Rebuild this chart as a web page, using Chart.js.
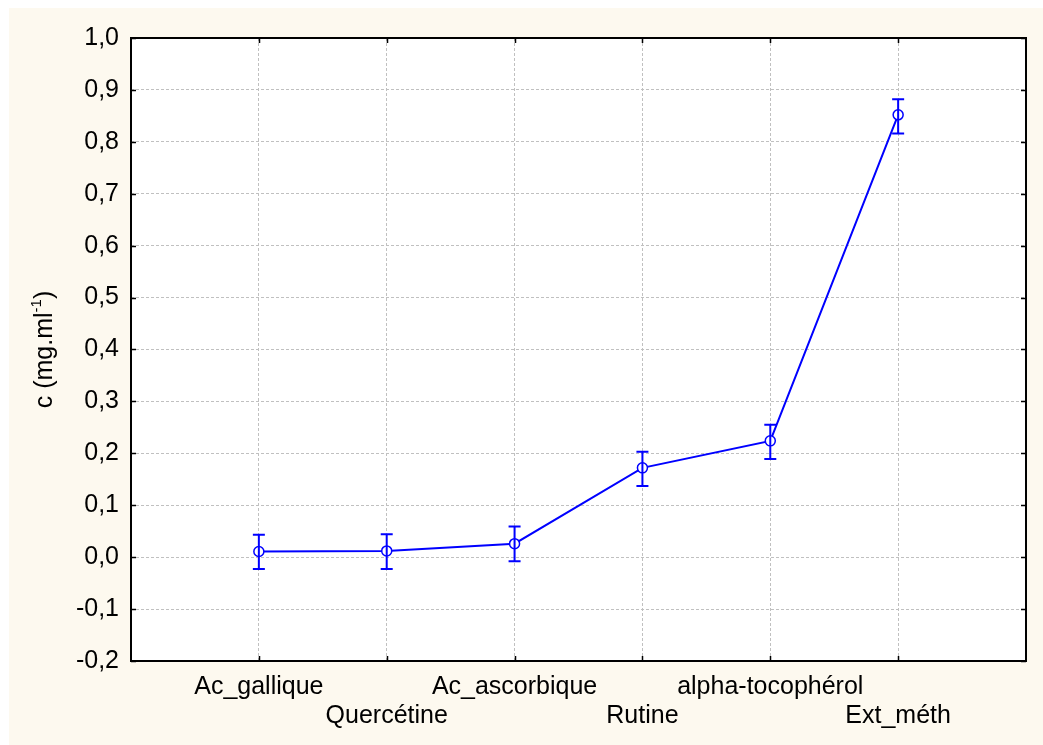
<!DOCTYPE html>
<html>
<head>
<meta charset="utf-8">
<script src="https://cdn.jsdelivr.net/npm/chart.js@4/dist/chart.umd.min.js"></script>
<style>
html,body{margin:0;padding:0;background:#ffffff;}
#wrap{width:1043px;height:745px;position:relative;}
</style>
</head>
<body>
<div id="wrap"><canvas id="c" width="1043" height="745"></canvas></div>
<script>
const categories = ['Ac_gallique', 'Quercétine', 'Ac_ascorbique', 'Rutine', 'alpha-tocophérol', 'Ext_méth'];
const means = [0.011, 0.012, 0.026, 0.172, 0.224, 0.852];
const upper = [0.043, 0.044, 0.059, 0.203, 0.255, 0.882];
const lower = [-0.023, -0.023, -0.008, 0.137, 0.189, 0.816];
const yTicks = [-0.2, -0.1, 0.0, 0.1, 0.2, 0.3, 0.4, 0.5, 0.6, 0.7, 0.8, 0.9, 1.0];
const yTitle = 'c (mg.ml';
const yTitleSup = '-1';

const FONT = '"Liberation Sans", Arial, sans-serif';
const FS = 25;
const BLUE = '#0000ff';

const points = means.map((v, i) => ({x: i + 1, y: v}));

const bgPlugin = {
  id: 'bg',
  beforeDraw(chart) {
    const ctx = chart.ctx;
    ctx.save();
    ctx.fillStyle = '#ffffff';
    ctx.fillRect(0, 0, chart.width, chart.height);
    ctx.fillStyle = '#fdf9ef';
    ctx.fillRect(9, 8, chart.width - 9, chart.height - 8);
    const a = chart.chartArea;
    ctx.fillStyle = '#ffffff';
    ctx.fillRect(a.left, a.top, a.right - a.left, a.bottom - a.top);
    ctx.restore();
  }
};

const framePlugin = {
  id: 'frame',
  afterDatasetsDraw(chart) {
    const ctx = chart.ctx;
    const xs = chart.scales.x, ys = chart.scales.y;
    ctx.save();
    ctx.strokeStyle = BLUE;
    ctx.lineWidth = 2;
    for (let i = 0; i < means.length; i++) {
      const px = xs.getPixelForValue(i + 1);
      const pu = ys.getPixelForValue(upper[i]);
      const pl = ys.getPixelForValue(lower[i]);
      ctx.beginPath();
      ctx.moveTo(px, pu); ctx.lineTo(px, pl);
      ctx.moveTo(px - 6, pu); ctx.lineTo(px + 6, pu);
      ctx.moveTo(px - 6, pl); ctx.lineTo(px + 6, pl);
      ctx.stroke();
    }
    ctx.restore();
  },
  afterDraw(chart) {
    const ctx = chart.ctx;
    const a = chart.chartArea;
    const xs = chart.scales.x, ys = chart.scales.y;
    ctx.save();
    ctx.strokeStyle = '#000000';
    ctx.lineWidth = 2;
    ctx.strokeRect(a.left, a.top, a.right - a.left, a.bottom - a.top);
    ctx.lineWidth = 1.5;
    ctx.beginPath();
    yTicks.forEach(v => {
      const py = Math.round(ys.getPixelForValue(v)) + 0.5;
      ctx.moveTo(a.left, py); ctx.lineTo(a.left + 5, py);
      ctx.moveTo(a.right, py); ctx.lineTo(a.right - 5, py);
    });
    for (let i = 1; i <= categories.length; i++) {
      const px = Math.round(xs.getPixelForValue(i)) + 0.5;
      ctx.moveTo(px, a.bottom); ctx.lineTo(px, a.bottom - 5);
      ctx.moveTo(px, a.top); ctx.lineTo(px, a.top + 5);
    }
    ctx.stroke();
    // y axis title with superscript
    ctx.fillStyle = '#000000';
    ctx.translate(45, (a.top + a.bottom) / 2);
    ctx.rotate(-Math.PI / 2);
    ctx.textBaseline = 'middle';
    ctx.textAlign = 'left';
    ctx.font = FS + 'px ' + FONT;
    const w1 = ctx.measureText(yTitle).width;
    ctx.font = '15px ' + FONT;
    const w2 = ctx.measureText(yTitleSup).width;
    ctx.font = FS + 'px ' + FONT;
    const w3 = ctx.measureText(')').width;
    const x0 = -(w1 + w2 + w3) / 2;
    ctx.fillText(yTitle, x0, 0);
    ctx.font = '15px ' + FONT;
    ctx.fillText(yTitleSup, x0 + w1, -8);
    ctx.font = FS + 'px ' + FONT;
    ctx.fillText(')', x0 + w1 + w2, 0);
    ctx.restore();
  }
};

new Chart(document.getElementById('c'), {
  type: 'line',
  data: {
    datasets: [{
      data: points,
      borderColor: BLUE,
      borderWidth: 2,
      backgroundColor: '#ffffff',
      pointBackgroundColor: '#ffffff',
      pointBorderColor: BLUE,
      pointBorderWidth: 1.5,
      pointRadius: 5,
      tension: 0
    }]
  },
  options: {
    responsive: false,
    animation: false,
    events: [],
    layout: {padding: {left: 0, top: 38, right: 17, bottom: 0}},
    plugins: {legend: {display: false}, tooltip: {enabled: false}},
    scales: {
      x: {
        type: 'linear',
        min: 0, max: categories.length + 1,
        border: {display: false, dash: [3, 2]},
        afterFit(s) { s.height = 84; },
        afterBuildTicks(s) {
          s.ticks = [];
          for (let i = 0; i <= categories.length + 1; i++) s.ticks.push({value: i});
        },
        grid: {color: '#c0c0c0', lineWidth: 1, drawTicks: false},
        ticks: {
          autoSkip: false, maxRotation: 0, padding: 12,
          color: '#000000',
          font: {family: FONT, size: FS, lineHeight: 1.16},
          callback(v) {
            const i = Math.round(v) - 1;
            if (i < 0 || i >= categories.length) return '';
            return i % 2 === 0 ? [categories[i], ''] : ['', categories[i]];
          }
        }
      },
      y: {
        type: 'linear',
        min: yTicks[0], max: yTicks[yTicks.length - 1],
        border: {display: false, dash: [3, 2]},
        afterFit(s) { s.width = 131; },
        afterBuildTicks(s) { s.ticks = yTicks.map(v => ({value: v})); },
        grid: {color: '#c0c0c0', lineWidth: 1, drawTicks: false},
        ticks: {
          padding: 12,
          color: '#000000',
          font: {family: FONT, size: FS},
          callback(v) {
            if (Math.abs(v) < 1e-9) return '0,0';
            return v.toFixed(1).replace('.', ',');
          }
        }
      }
    }
  },
  plugins: [bgPlugin, framePlugin]
});
</script>
</body>
</html>
